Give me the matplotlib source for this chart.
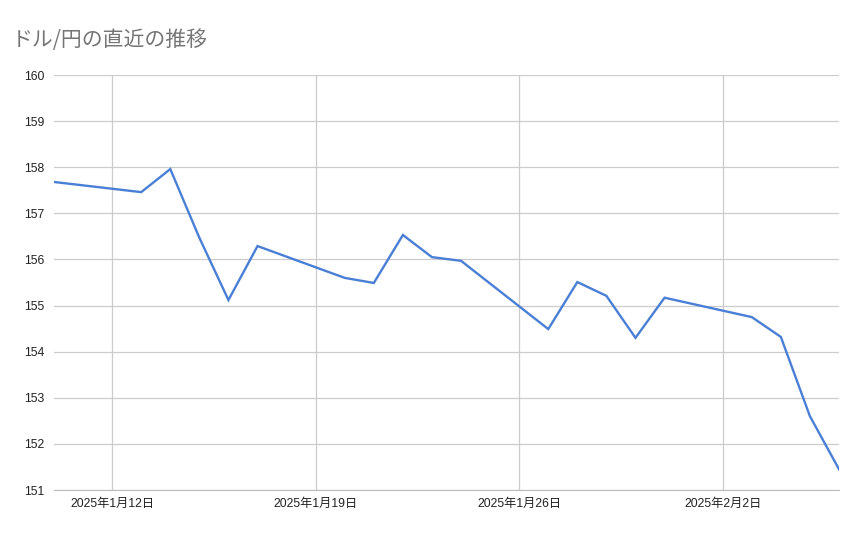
import numpy as np
import pandas as pd
import matplotlib.pyplot as plt

plt.rcParams['font.family'] = ['Liberation Sans', 'Noto Sans CJK JP', 'DejaVu Sans']

# ドル/円 終値
dates = pd.to_datetime([
    "2025-01-10", "2025-01-13", "2025-01-14", "2025-01-15", "2025-01-16", "2025-01-17",
    "2025-01-20", "2025-01-21", "2025-01-22", "2025-01-23", "2025-01-24",
    "2025-01-27", "2025-01-28", "2025-01-29", "2025-01-30", "2025-01-31",
    "2025-02-03", "2025-02-04", "2025-02-05", "2025-02-06",
])
rates = [
    157.68, 157.46, 157.96, 156.47, 155.12, 156.29,
    155.60, 155.49, 156.53, 156.05, 155.97,
    154.49, 155.51, 155.21, 154.30, 155.17,
    154.75, 154.32, 152.60, 151.45,
]
tick_dates = pd.to_datetime(["2025-01-12", "2025-01-19", "2025-01-26", "2025-02-02"])
tick_labels = ["2025年1月12日", "2025年1月19日", "2025年1月26日", "2025年2月2日"]

fig = plt.figure(figsize=(8.67, 5.37), dpi=100)
ax = fig.add_axes([54 / 867, 1 - 490 / 537, (839 - 54) / 867, (490 - 75) / 537])

ax.plot(dates, rates, color="#4a7fd6", linewidth=1.7, solid_joinstyle="miter")

ax.set_xlim(dates[0], dates[-1])
ax.set_ylim(151, 160)
ax.set_yticks(np.arange(151, 161, 1))
ax.set_xticks(tick_dates)
ax.set_xticklabels(tick_labels)

ax.grid(True, color="#cccccc", linewidth=0.9)
ax.set_axisbelow(True)
for s in ["top", "right", "left"]:
    ax.spines[s].set_visible(False)
ax.spines["bottom"].set_color("#bbbbbb")
ax.tick_params(length=0, labelsize=8.8, colors="#222222")
ax.tick_params(axis="y", pad=7)
ax.tick_params(axis="x", pad=6)

fig.text(12 / 867, 1 - 40 / 537, "ドル/円の直近の推移", fontsize=15,
         color="#757575", va="center", ha="left",
         family=['Noto Sans CJK JP', 'DejaVu Sans'])

fig.savefig("out.png", dpi=100)
